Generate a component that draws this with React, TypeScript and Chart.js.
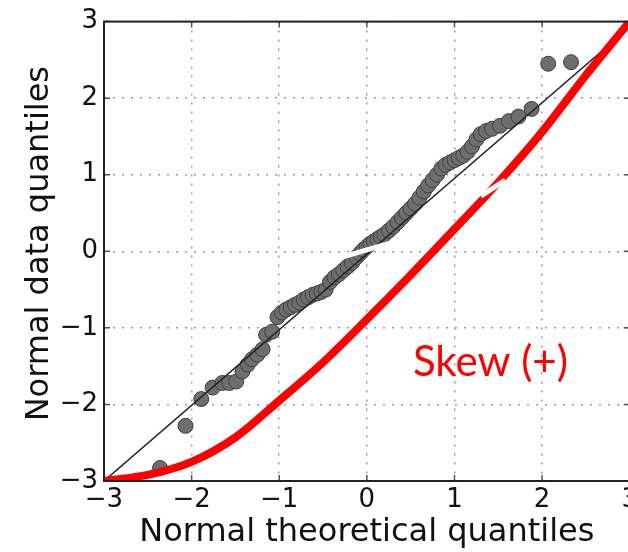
import React, { useEffect, useRef } from "react";
import { Chart, registerables } from "chart.js";

Chart.register(...registerables);

// Q-Q sample points (theoretical, observed)
const qx = [-2.36, -2.07, -1.89, -1.76, -1.65, -1.57, -1.49, -1.42, -1.36, -1.31, -1.25, -1.19, -1.15, -1.08, -1.02, -0.97, -0.92, -0.87, -0.82, -0.77, -0.72, -0.67, -0.62, -0.57, -0.52, -0.47, -0.42, -0.37, -0.32, -0.27, -0.22, -0.17, -0.12, -0.08, -0.04, 0.0, 0.04, 0.08, 0.12, 0.16, 0.2, 0.25, 0.3, 0.35, 0.4, 0.45, 0.5, 0.55, 0.6, 0.65, 0.7, 0.75, 0.8, 0.85, 0.9, 0.95, 1.0, 1.05, 1.1, 1.15, 1.2, 1.25, 1.3, 1.36, 1.43, 1.52, 1.62, 1.73, 1.88, 2.07, 2.33];
const qy = [-2.83, -2.28, -1.93, -1.78, -1.72, -1.72, -1.7, -1.57, -1.48, -1.41, -1.35, -1.28, -1.09, -1.05, -0.86, -0.8, -0.76, -0.73, -0.7, -0.67, -0.63, -0.6, -0.57, -0.55, -0.53, -0.5, -0.4, -0.34, -0.3, -0.25, -0.2, -0.15, -0.08, -0.03, 0.02, 0.06, 0.1, 0.13, 0.16, 0.19, 0.22, 0.27, 0.32, 0.38, 0.44, 0.5, 0.56, 0.62, 0.7, 0.78, 0.86, 0.93, 1.0, 1.08, 1.13, 1.16, 1.19, 1.22, 1.25, 1.3, 1.37, 1.46, 1.53, 1.57, 1.6, 1.64, 1.7, 1.76, 1.86, 2.45, 2.47];

// Reference line
const refX = [-3, 3];
const refY = [-3, 2.93];

// Red "skew" curve
const skewX = [-3, -2.5, -2, -1.5, -1, -0.5, 0, 0.5, 1, 1.5, 2, 2.5, 3];
const skewY = [-3, -2.92, -2.75, -2.43, -1.95, -1.45, -0.89, -0.31, 0.29, 0.9, 1.56, 2.3, 3.0];

// White gaps (image artifacts)
const gapAX = [-0.32, 0.36];
const gapAY = [-0.09, 0.14];
const gapBX = [1.3, 1.58];
const gapBY = [0.72, 0.93];

// Axis ticks and labels
const tickValues = [-3, -2, -1, 0, 1, 2, 3];
const xTitle = "Normal theoretical quantiles";
const yTitle = "Normal data quantiles";
const yTitleCenter = 0.1; // data-y at which the y title is centred
const noteText = "Skew (+)";
const noteX = 1.41;
const noteY = -1.63;

const pts = (xs: number[], ys: number[]) => xs.map((x, i) => ({ x, y: ys[i] }));
const fmt = (v: number | string) => {
  const n = Number(v);
  return n < 0 ? "\u2212" + Math.abs(n) : String(n);
};

const framePlugin = {
  id: "frame",
  afterDatasetsDraw(chart: any) {
    const { ctx, chartArea: a, scales } = chart;
    ctx.save();
    ctx.strokeStyle = "#555";
    ctx.lineWidth = 1.5;
    const len = 6;
    tickValues.forEach((v) => {
      const px = scales.x.getPixelForValue(v);
      const py = scales.y.getPixelForValue(v);
      ctx.beginPath();
      ctx.moveTo(px, a.bottom); ctx.lineTo(px, a.bottom - len);
      ctx.moveTo(px, a.top); ctx.lineTo(px, a.top + len);
      ctx.moveTo(a.left, py); ctx.lineTo(a.left + len, py);
      ctx.moveTo(a.right, py); ctx.lineTo(a.right - len, py);
      ctx.stroke();
    });
    ctx.strokeStyle = "#222";
    ctx.lineWidth = 2;
    ctx.strokeRect(a.left, a.top, a.right - a.left, a.bottom - a.top);
    ctx.restore();
  },
  afterDraw(chart: any) {
    const { ctx, scales } = chart;
    ctx.save();
    ctx.fillStyle = "#ff0000";
    ctx.font = "42px Lato";
    ctx.textAlign = "center";
    ctx.textBaseline = "alphabetic";
    ctx.fillText(noteText, scales.x.getPixelForValue(noteX), scales.y.getPixelForValue(noteY));
    ctx.restore();

    // y axis title
    ctx.save();
    ctx.fillStyle = "#111";
    ctx.font = "32px 'DejaVu Sans'";
    ctx.textAlign = "center";
    ctx.textBaseline = "middle";
    ctx.translate(39.2, scales.y.getPixelForValue(yTitleCenter));
    ctx.rotate(-Math.PI / 2);
    ctx.fillText(yTitle, 0, 0);
    ctx.restore();
  },
};

export default function App() {
  const ref = useRef<HTMLCanvasElement>(null);
  useEffect(() => {
    const canvas = ref.current!;
    const tickFont = { family: "'DejaVu Sans'", size: 26 };
    const titleFont = { family: "'DejaVu Sans'", size: 32 };
    const chart = new Chart(canvas, {
      type: "scatter",
      data: {
        datasets: [
          { data: pts(gapAX, gapAY), showLine: true, borderColor: "#fff", borderWidth: 5, pointRadius: 0 } as any,
          { data: pts(gapBX, gapBY), showLine: true, borderColor: "#fff", borderWidth: 5, pointRadius: 0 } as any,
          { data: pts(skewX, skewY), showLine: true, borderColor: "#ff0000", borderWidth: 8, pointRadius: 0, cubicInterpolationMode: "monotone", borderCapStyle: "round" } as any,
          { data: pts(refX, refY), showLine: true, borderColor: "#222", borderWidth: 1.5, pointRadius: 0 } as any,
          { data: pts(qx, qy), pointRadius: 7.5, backgroundColor: "#6e6e6e", borderColor: "#3f3f3f", borderWidth: 1 } as any,
        ],
      },
      options: {
        responsive: false,
        animation: false,
        devicePixelRatio: 1,
        layout: { padding: { left: 0, top: 17, right: 10, bottom: 0 } },
        plugins: { legend: { display: false }, tooltip: { enabled: false } },
        scales: {
          x: {
            type: "linear", min: -3, max: 3,
            afterBuildTicks: (s: any) => { s.ticks = tickValues.map((v) => ({ value: v })); },
            ticks: { callback: fmt, font: tickFont, color: "#111", padding: 4, maxRotation: 0, autoSkip: false },
            grid: { color: "rgba(120,120,120,0.75)", lineWidth: 1.5, drawTicks: false },
            border: { display: false, dash: [2, 7] },
            title: { display: true, text: xTitle, font: titleFont, color: "#111", padding: { top: 0, bottom: 0 } },
            afterFit: (s: any) => { s.height = 71; },
          },
          y: {
            type: "linear", min: -3, max: 3,
            afterBuildTicks: (s: any) => { s.ticks = tickValues.map((v) => ({ value: v })); },
            ticks: { callback: fmt, font: tickFont, color: "#111", padding: 6, autoSkip: false },
            grid: { color: "rgba(120,120,120,0.75)", lineWidth: 1.5, drawTicks: false },
            border: { display: false, dash: [2, 7] },
            title: { display: false },
            afterFit: (s: any) => { s.width = 104; },
          },
        },
      } as any,
      plugins: [framePlugin],
    });
    return () => chart.destroy();
  }, []);
  return (
    <div style={{ position: "fixed", left: 0, top: 0, width: 628, height: 552, overflow: "hidden", background: "#fff" }}>
      <canvas ref={ref} width={642} height={552} style={{ display: "block" }} />
    </div>
  );
}
